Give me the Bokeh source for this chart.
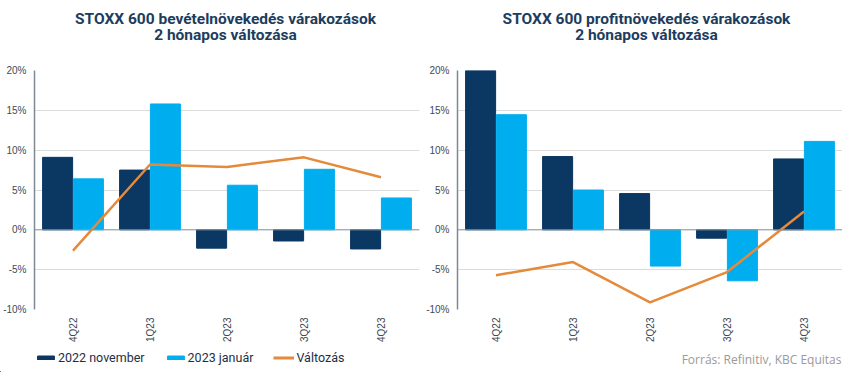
import math
from bokeh.plotting import figure
from bokeh.models import (ColumnDataSource, Range1d, FactorRange, FixedTicker,
                          PrintfTickFormatter, Span, Legend, LegendItem, Label)
from bokeh.layouts import column, row
from bokeh.transform import dodge
from bokeh.embed import file_html
from bokeh.resources import INLINE

# ---- data ----
categories = ["4Q22", "1Q23", "2Q23", "3Q23", "4Q23"]
rev_nov = [9.1, 7.5, -2.3, -1.4, -2.4]
rev_jan = [6.4, 15.8, 5.6, 7.6, 4.0]
rev_chg = [-2.6, 8.2, 7.9, 9.1, 6.6]
prof_nov = [20.1, 9.2, 4.55, -1.05, 8.9]
prof_jan = [14.45, 5.0, -4.55, -6.4, 11.1]
prof_chg = [-5.7, -4.05, -9.1, -5.3, 2.3]
y_ticks = [-10, -5, 0, 5, 10, 15, 20]
series_names = ["2022 november", "2023 január", "Változás"]
titles_left = ["STOXX 600 bevételnövekedés várakozások", "2 hónapos változása"]
titles_right = ["STOXX 600 profitnövekedés várakozások", "2 hónapos változása"]
source_text = "Forrás: Refinitiv, KBC Equitas"

DARK = "#0b3763"
LIGHT = "#00aeef"
ORANGE = "#e5893a"
TITLE_C = "#1c3d5e"
TICK_C = "#404a55"

W = 842
TOP_H = 62
PLOT_H = 282
LEG_H = 28


def make_panel(nov, jan, chg, width, bl, br):
    src = ColumnDataSource(dict(cat=categories, nov=nov, jan=jan, chg=chg))
    p = figure(width=width, height=PLOT_H, x_range=FactorRange(*categories),
               y_range=Range1d(-10, 20), output_backend="svg",
               toolbar_location=None, min_border_left=bl, min_border_right=br,
               min_border_top=8, min_border_bottom=0)
    p.vbar(x=dodge("cat", -0.2, range=p.x_range), top="nov", bottom=0, width=0.39,
           source=src, fill_color=DARK, line_color=DARK)
    p.vbar(x=dodge("cat", 0.2, range=p.x_range), top="jan", bottom=0, width=0.39,
           source=src, fill_color=LIGHT, line_color=LIGHT)
    p.line(x="cat", y="chg", source=src, line_color=ORANGE, line_width=2.5)
    p.add_layout(Span(location=0, dimension="width", line_color="#8a97a3", line_width=1))

    p.outline_line_color = None
    p.xgrid.grid_line_color = None
    p.ygrid.grid_line_color = "#dcdcdc"
    p.ygrid.ticker = FixedTicker(ticks=y_ticks)

    ya = p.yaxis[0]
    ya.ticker = FixedTicker(ticks=y_ticks)
    ya.formatter = PrintfTickFormatter(format="%d%%")
    ya.axis_line_color = "#7d8a96"
    ya.axis_line_width = 1.5
    ya.major_tick_line_color = None
    ya.minor_tick_line_color = None
    ya.major_tick_out = 0
    ya.major_tick_in = 0
    ya.minor_tick_out = 0
    ya.minor_tick_in = 0
    ya.major_label_text_font = "Liberation Sans"
    ya.major_label_text_font_size = "10px"
    ya.major_label_text_color = TICK_C
    ya.major_label_standoff = 8

    xa = p.xaxis[0]
    xa.axis_line_color = None
    xa.major_tick_line_color = None
    xa.minor_tick_line_color = None
    xa.major_tick_out = 0
    xa.major_tick_in = 0
    xa.minor_tick_out = 0
    xa.minor_tick_in = 0
    xa.major_label_orientation = math.pi / 2
    xa.major_label_text_font = "Liberation Sans"
    xa.major_label_text_font_size = "10px"
    xa.major_label_text_color = TICK_C
    xa.major_label_standoff = 8
    return p


p1 = make_panel(rev_nov, rev_jan, rev_chg, 421, 34, 2)
p2 = make_panel(prof_nov, prof_jan, prof_chg, 421, 36, 0)

# title strip
tt = figure(width=W, height=TOP_H, x_range=Range1d(0, W), y_range=Range1d(0, TOP_H),
            output_backend="svg", toolbar_location=None, min_border=0)
tt.axis.visible = False
tt.grid.visible = False
tt.outline_line_color = None
for cx, lines in ((225, titles_left), (646, titles_right)):
    for i, txt in enumerate(lines):
        tt.add_layout(Label(x=cx, y=TOP_H - 18 - 16 * i, text=txt, text_align="center",
                            text_baseline="middle", text_font="Roboto",
                            text_font_size="15.5px", text_font_style="bold",
                            text_color=TITLE_C))

# legend strip
lg = figure(width=W, height=LEG_H, x_range=Range1d(0, W), y_range=Range1d(0, LEG_H),
            output_backend="svg", toolbar_location=None, min_border=0)
lg.axis.visible = False
lg.grid.visible = False
lg.outline_line_color = None
dummy = ColumnDataSource(dict(x=[-100, -99], y=[1, 1]))
r1 = lg.vbar(x="x", top="y", width=1, source=dummy, fill_color=DARK, line_color=DARK)
r2 = lg.vbar(x="x", top="y", width=1, source=dummy, fill_color=LIGHT, line_color=LIGHT)
r3 = lg.line(x="x", y="y", source=dummy, line_color=ORANGE, line_width=3)
legend = Legend(items=[LegendItem(label=series_names[0], renderers=[r1]),
                       LegendItem(label=series_names[1], renderers=[r2]),
                       LegendItem(label=series_names[2], renderers=[r3])],
                orientation="horizontal", location=(35, 7),
                glyph_width=21, glyph_height=5, label_height=12,
                label_standoff=2, spacing=20, padding=0, margin=0,
                border_line_color=None, background_fill_alpha=0,
                label_text_font="Roboto", label_text_font_size="12.5px",
                label_text_color="#1c2f45")
lg.add_layout(legend)
lg.add_layout(Label(x=841, y=13, text=source_text, text_align="right",
                    text_baseline="middle", text_font="Open Sans",
                    text_font_size="12px", text_color="#9a9a9a"))

layout = column(tt, row(p1, p2), lg)

open("out.html", "w").write(file_html(layout, INLINE))
